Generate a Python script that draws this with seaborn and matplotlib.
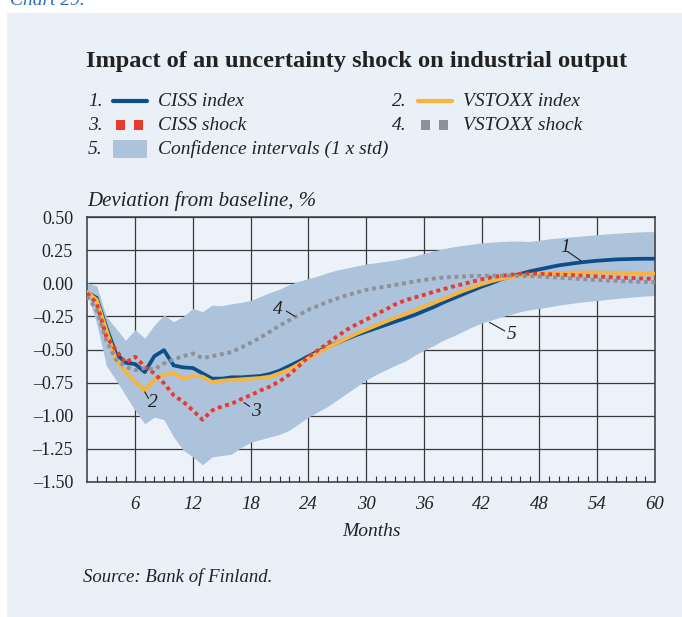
import numpy as np
import pandas as pd
import matplotlib
matplotlib.use("Agg")
import matplotlib.pyplot as plt
import seaborn as sns
from matplotlib.lines import Line2D
from matplotlib.patches import Rectangle

months = list(range(1, 61))

ciss_index = [-0.07, -0.11, -0.33, -0.53, -0.60, -0.61, -0.67, -0.55, -0.505, -0.62,
              -0.635, -0.64, -0.68, -0.72, -0.72, -0.71, -0.71, -0.705, -0.70, -0.685,
              -0.66, -0.625, -0.59, -0.55, -0.515, -0.48, -0.45, -0.42, -0.39, -0.365,
              -0.34, -0.315, -0.29, -0.265, -0.24, -0.21, -0.18, -0.145, -0.115, -0.085,
              -0.055, -0.025, 0.0, 0.03, 0.05, 0.07, 0.09, 0.105, 0.12, 0.135,
              0.145, 0.155, 0.163, 0.17, 0.175, 0.18, 0.182, 0.184, 0.185, 0.185]

vstoxx_index = [-0.065, -0.125, -0.35, -0.575, -0.67, -0.745, -0.81, -0.73, -0.69, -0.68,
                -0.72, -0.70, -0.705, -0.745, -0.735, -0.73, -0.725, -0.72, -0.715, -0.705,
                -0.68, -0.65, -0.61, -0.565, -0.525, -0.485, -0.45, -0.415, -0.38, -0.35,
                -0.32, -0.29, -0.26, -0.235, -0.205, -0.176, -0.148, -0.12, -0.09, -0.06,
                -0.033, -0.007, 0.015, 0.033, 0.046, 0.056, 0.063, 0.069, 0.073, 0.076,
                0.079, 0.081, 0.081, 0.081, 0.08, 0.079, 0.078, 0.076, 0.075, 0.074]

ciss_shock = [-0.075, -0.15, -0.40, -0.505, -0.60, -0.555, -0.63, -0.68, -0.755, -0.845,
              -0.895, -0.96, -1.03, -0.96, -0.93, -0.91, -0.875, -0.845, -0.81, -0.78,
              -0.74, -0.69, -0.625, -0.555, -0.505, -0.455, -0.40, -0.35, -0.31, -0.275,
              -0.235, -0.20, -0.16, -0.13, -0.108, -0.088, -0.065, -0.045, -0.025, -0.007,
              0.012, 0.03, 0.045, 0.056, 0.064, 0.071, 0.072, 0.071, 0.068, 0.064,
              0.062, 0.059, 0.055, 0.051, 0.047, 0.043, 0.041, 0.038, 0.035, 0.033]

vstoxx_shock = [-0.10, -0.20, -0.43, -0.575, -0.63, -0.655, -0.64, -0.65, -0.605, -0.575,
                -0.55, -0.53, -0.565, -0.55, -0.535, -0.52, -0.485, -0.45, -0.41, -0.365,
                -0.32, -0.28, -0.24, -0.20, -0.17, -0.14, -0.115, -0.09, -0.07, -0.05,
                -0.037, -0.025, -0.012, 0.0, 0.013, 0.025, 0.035, 0.043, 0.048, 0.051,
                0.054, 0.056, 0.057, 0.058, 0.057, 0.056, 0.054, 0.051, 0.047, 0.043,
                0.038, 0.033, 0.029, 0.025, 0.021, 0.018, 0.015, 0.013, 0.01, 0.008]

ci_upper = [0.005, -0.02, -0.25, -0.34, -0.43, -0.35, -0.415, -0.315, -0.24, -0.29,
            -0.25, -0.19, -0.215, -0.165, -0.17, -0.155, -0.145, -0.13, -0.10, -0.07,
            -0.045, -0.01, 0.015, 0.035, 0.055, 0.08, 0.10, 0.115, 0.13, 0.145,
            0.155, 0.165, 0.175, 0.19, 0.205, 0.225, 0.245, 0.26, 0.275, 0.285,
            0.295, 0.305, 0.31, 0.315, 0.318, 0.318, 0.315, 0.325, 0.335, 0.342,
            0.348, 0.354, 0.36, 0.366, 0.372, 0.377, 0.382, 0.386, 0.389, 0.39]

ci_lower = [-0.07, -0.30, -0.62, -0.73, -0.845, -0.96, -1.06, -1.01, -1.03, -1.16,
            -1.26, -1.31, -1.37, -1.31, -1.30, -1.29, -1.24, -1.20, -1.18, -1.16,
            -1.14, -1.11, -1.06, -1.01, -0.97, -0.93, -0.88, -0.83, -0.78, -0.73,
            -0.69, -0.655, -0.62, -0.59, -0.545, -0.505, -0.47, -0.43, -0.40, -0.365,
            -0.33, -0.30, -0.277, -0.255, -0.235, -0.215, -0.20, -0.19, -0.178, -0.165,
            -0.155, -0.145, -0.137, -0.13, -0.122, -0.115, -0.108, -0.102, -0.096, -0.092]

yticks = [0.50, 0.25, 0.0, -0.25, -0.50, -0.75, -1.00, -1.25, -1.50]
ytick_labels = ["0.50", "0.25", "0.00", "–0.25", "–0.50", "–0.75", "–1.00", "–1.25", "–1.50"]
xticks = [6, 12, 18, 24, 30, 36, 42, 48, 54, 60]
xtick_labels = [str(v) for v in xticks]

legend_labels = ["CISS index", "VSTOXX index", "CISS shock", "VSTOXX shock",
                 "Confidence intervals (1 x std)"]

df = pd.DataFrame({"month": months, "ciss_index": ciss_index, "vstoxx_index": vstoxx_index,
                   "ciss_shock": ciss_shock, "vstoxx_shock": vstoxx_shock,
                   "lo": ci_lower, "hi": ci_upper})

sns.set_theme(style="white")
plt.rcParams["font.family"] = ["Liberation Serif", "DejaVu Serif"]

C_BLUE = "#0B4F8A"
C_YEL = "#F9B43E"
C_RED = "#EA3A2A"
C_GRAY = "#8E9197"
C_BAND = "#ADC2DB"
C_PANEL = "#E9F0F7"
C_TXT = "#222222"

W, H = 682, 617
fig = plt.figure(figsize=(W / 100, H / 100), dpi=100, facecolor="white")

def fx(px):
    return px / W

def fy(py):
    return 1 - py / H

fig.patches.append(Rectangle((fx(7), 0), 1 - fx(7), fy(13), transform=fig.transFigure,
                             facecolor=C_PANEL, edgecolor="none", zorder=-5))
fig.text(fx(10), fy(5), "Chart 29.", fontsize=14, style="italic", color="#2C6BB0",
         ha="left", va="baseline")

ax = fig.add_axes([fx(87), fy(482), fx(655) - fx(87), fy(217) - fy(482)])
ax.set_facecolor("#ECF2F9")
ax.set_axisbelow(True)

ax.fill_between(df["month"], df["lo"], df["hi"], color=C_BAND, lw=0, zorder=1)
sns.lineplot(data=df, x="month", y="ciss_index", ax=ax, color=C_BLUE, lw=2.7, zorder=3)
sns.lineplot(data=df, x="month", y="vstoxx_index", ax=ax, color=C_YEL, lw=2.7, zorder=4)
sns.lineplot(data=df, x="month", y="ciss_shock", ax=ax, color=C_RED, lw=2.8, zorder=5)
ax.lines[-1].set_dashes((1.0, 0.95))
ax.lines[-1].set_dash_capstyle("butt")
sns.lineplot(data=df, x="month", y="vstoxx_shock", ax=ax, color=C_GRAY, lw=2.8, zorder=5)
ax.lines[-1].set_dashes((1.0, 0.95))
ax.lines[-1].set_dash_capstyle("butt")

ax.set_xlim(1, 60)
ax.set_ylim(-1.5, 0.5)
ax.set_xticks(xticks)
ax.set_xticklabels(xtick_labels, fontsize=13.5, style="italic", color=C_TXT)
ax.set_yticks(yticks)
ax.set_yticklabels(ytick_labels, fontsize=13, color=C_TXT)
ax.set_xticks(months[1:], minor=True)
ax.tick_params(axis="x", which="major", length=0, pad=10)
ax.tick_params(axis="y", which="major", length=0, pad=10)
ax.tick_params(axis="x", which="minor", direction="in", length=4.5, width=0.8,
               color="#333333", bottom=True)
ax.grid(True, which="major", color="#3A3A3A", lw=0.9)
for s in ax.spines.values():
    s.set_color("#3A3A3A")
    s.set_linewidth(1.1)
ax.set_xlabel("Months", fontsize=14, style="italic", color=C_TXT, labelpad=7)
ax.set_ylabel("")

# annotations
ann = [("1", (50.7, 0.27), (50.9, 0.24), (52.3, 0.17)),
       ("2", (7.8, -0.90), (7.0, -0.82), (7.4, -0.87)),
       ("3", (18.5, -0.97), (17.3, -0.90), (17.9, -0.93)),
       ("4", (20.8, -0.20), (21.7, -0.21), (22.6, -0.25)),
       ("5", (45.1, -0.39), (42.8, -0.295), (44.4, -0.36))]
for t, tp, a, b in ann:
    ax.text(tp[0], tp[1], t, fontsize=14, style="italic", color=C_TXT, ha="center", va="center", zorder=6)
    ax.plot([a[0], b[0]], [a[1], b[1]], color="#222222", lw=0.8, zorder=6)

# Titles and texts
fig.text(fx(86), fy(61), "Impact of an uncertainty shock on industrial output", fontsize=17.6,
         weight="bold", color=C_TXT, ha="left", va="center")
fig.text(fx(87), fy(201), "Deviation from baseline, %", fontsize=15, style="italic",
         color=C_TXT, ha="left", va="center")
fig.text(fx(83), fy(577), "Source: Bank of Finland.", fontsize=13.5, style="italic",
         color=C_TXT, ha="left", va="center")

# Legend (manual)
rows = [101, 125, 149]
items = [("1.", 88, 113, rows[0], "line", C_BLUE, legend_labels[0]),
         ("2.", 392, 418, rows[0], "line", C_YEL, legend_labels[1]),
         ("3.", 88, 113, rows[1], "dots", C_RED, legend_labels[2]),
         ("4.", 392, 418, rows[1], "dots", C_GRAY, legend_labels[3]),
         ("5.", 88, 113, rows[2], "patch", C_BAND, legend_labels[4])]
for num, xn, xh, yr, kind, col, lab in items:
    fig.text(fx(xn), fy(yr), num, fontsize=14, style="italic", color=C_TXT, ha="left", va="center")
    if kind == "line":
        fig.add_artist(Line2D([fx(xh), fx(xh + 34)], [fy(yr), fy(yr)], transform=fig.transFigure,
                              color=col, lw=3.0, solid_capstyle="round"))
    elif kind == "dots":
        for x0 in (xh + 3, xh + 21):
            fig.patches.append(Rectangle((fx(x0), fy(yr + 4.5)), fx(9), 9 / H,
                                         transform=fig.transFigure, facecolor=col,
                                         edgecolor="none"))
    else:
        fig.patches.append(Rectangle((fx(xh), fy(yr + 9)), fx(34), 18 / H,
                                     transform=fig.transFigure, facecolor=col, edgecolor="none"))
    fig.text(fx(xh + 45), fy(yr), lab, fontsize=14, style="italic", color=C_TXT,
             ha="left", va="center")

fig.savefig("out.png", dpi=100, facecolor="white")
